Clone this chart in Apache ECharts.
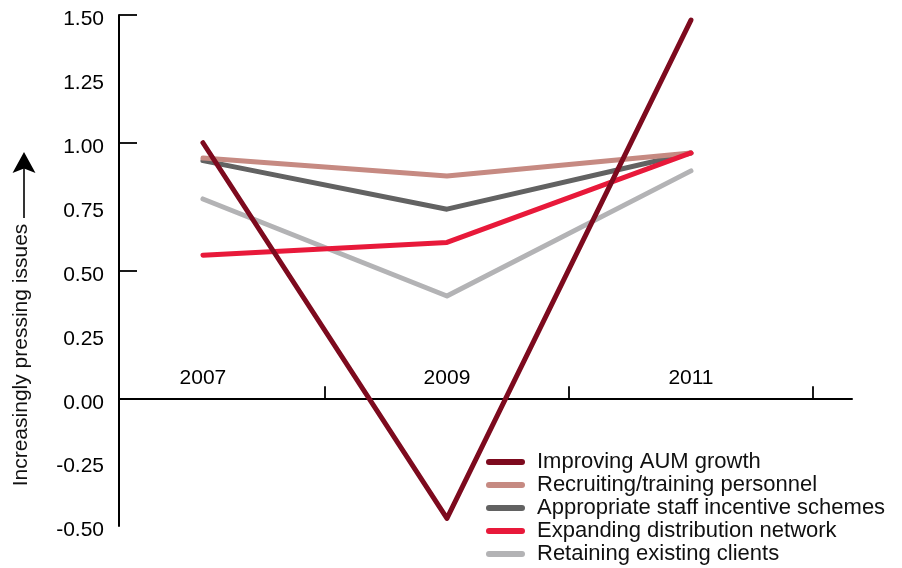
<!DOCTYPE html>
<html>
<head>
<meta charset="utf-8">
<style>
  html, body { margin: 0; padding: 0; background: #ffffff; }
  #chart { width: 902px; height: 568px; }
</style>
<script src="https://cdn.jsdelivr.net/npm/echarts@6/dist/echarts.min.js"></script>
</head>
<body>
<div id="chart"></div>
<script>
// Survey years (category positions 0, 1, 2 on the x scale)
const years = ['2007', '2009', '2011'];

// Index of how pressing each issue is, per survey year
const improvingAUM = [1.00, -0.47, 1.48];
const recruiting = [0.94, 0.87, 0.96];
const incentives = [0.93, 0.74, 0.96];
const distribution = [0.56, 0.61, 0.96];
const retaining = [0.78, 0.40, 0.89];

// Y axis tick labels and the values that carry a tick mark
const yLabelStep = 0.25;
const yMin = -0.5;
const yMax = 1.5;
const yTickValues = [0.5, 1.0, 1.5];

const seriesNames = [
  'Improving AUM growth',
  'Recruiting/training personnel',
  'Appropriate staff incentive schemes',
  'Expanding distribution network',
  'Retaining existing clients'
];

const FONT = '"Liberation Sans", Arial, Helvetica, sans-serif';

const GRID_TOP = 15;
const GRID_BOTTOM = 42;
const CHART_H = 568;
// Distance from the bottom of the plot up to the zero line
const plotH = CHART_H - GRID_TOP - GRID_BOTTOM;
const zeroOffset = plotH * (0 - yMin) / (yMax - yMin);

function pairs(values) {
  return values.map((v, i) => [i, v]);
}

function lineSeries(name, values, color) {
  return {
    name: name,
    type: 'line',
    data: pairs(values),
    symbol: 'none',
    showSymbol: false,
    color: color,
    lineStyle: { width: 5, color: color, cap: 'round', join: 'round' },
    emphasis: { disabled: true },
    animation: false
  };
}

const chart = echarts.init(document.getElementById('chart'), null, { renderer: 'canvas' });

chart.setOption({
  backgroundColor: '#ffffff',
  animation: false,
  textStyle: { fontFamily: FONT },
  grid: { left: 119, right: 50, top: GRID_TOP, bottom: GRID_BOTTOM, containLabel: false },
  xAxis: {
    type: 'value',
    min: -0.344,
    max: 2.66,
    // axis sits on the zero line of the value scale
    offset: -zeroOffset,
    splitLine: { show: false },
    axisLine: { show: true, onZero: false, lineStyle: { color: '#000', width: 2 } },
    axisTick: {
      show: true,
      inside: true,
      length: 12,
      customValues: [0.5, 1.5, 2.5],
      lineStyle: { color: '#000', width: 1.8 }
    },
    axisLabel: {
      show: true,
      inside: true,
      margin: 9.5,
      lineHeight: 21,
      customValues: years.map((_, i) => i),
      formatter: (v) => years[Math.round(v)],
      color: '#000',
      fontSize: 21,
      fontFamily: FONT
    }
  },
  yAxis: {
    type: 'value',
    min: yMin,
    max: yMax,
    interval: yLabelStep,
    splitLine: { show: false },
    axisLine: { show: true, onZero: false, lineStyle: { color: '#000', width: 2 } },
    axisTick: {
      show: true,
      inside: true,
      length: 18,
      customValues: yTickValues,
      lineStyle: { color: '#000', width: 1.8 }
    },
    axisLabel: {
      margin: 15,
      color: '#000',
      fontSize: 21,
      fontFamily: FONT,
      verticalAlign: 'top',
      lineHeight: 9,
      formatter: (v) => v.toFixed(2)
    }
  },
  legend: {
    orient: 'vertical',
    left: 486,
    top: 451,
    padding: 0,
    itemWidth: 39,
    itemHeight: 6,
    itemGap: 1,
    icon: 'path://M3,0H36A3,3,0,0,1,36,6H3A3,3,0,0,1,3,0Z',
    data: seriesNames,
    selectedMode: false,
    textStyle: {
      color: '#111',
      fontSize: 22,
      lineHeight: 22,
      fontFamily: FONT,
      padding: [0, 0, 0, 7]
    }
  },
  // Drawn bottom to top so the darker lines sit over the lighter ones
  series: [
    lineSeries(seriesNames[4], retaining, '#b3b3b5'),
    lineSeries(seriesNames[2], incentives, '#626262'),
    lineSeries(seriesNames[1], recruiting, '#c68a82'),
    lineSeries(seriesNames[3], distribution, '#e8193a'),
    lineSeries(seriesNames[0], improvingAUM, '#7d0a1e')
  ],
  graphic: [
    {
      type: 'text',
      x: 21,
      y: 355,
      rotation: Math.PI / 2,
      style: {
        text: 'Increasingly pressing issues',
        font: '21px ' + FONT,
        fill: '#111',
        align: 'center',
        verticalAlign: 'middle'
      }
    },
    {
      type: 'line',
      shape: { x1: 24, y1: 218, x2: 24, y2: 166 },
      style: { stroke: '#000', lineWidth: 1.6 }
    },
    {
      type: 'polygon',
      shape: { points: [[24, 152], [35.5, 173], [24, 168.5], [12.5, 173]] },
      style: { fill: '#000' }
    }
  ]
});
</script>
</body>
</html>
